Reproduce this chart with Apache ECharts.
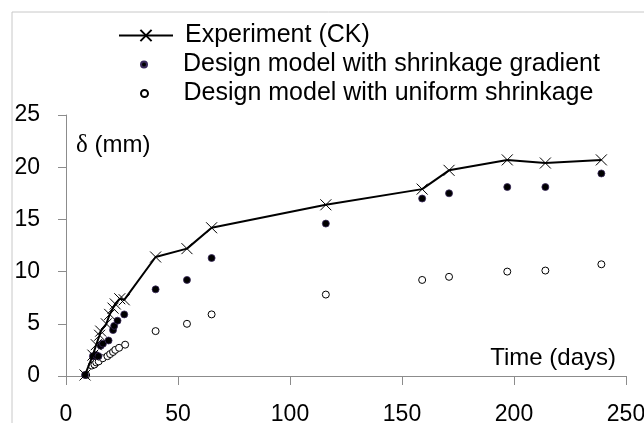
<!DOCTYPE html>
<html>
<head>
<meta charset="utf-8">
<script src="https://cdn.jsdelivr.net/npm/echarts@6/dist/echarts.min.js"></script>
<style>
  html, body { margin: 0; padding: 0; background: #fff; }
  #chart { width: 644px; height: 423px; }
</style>
</head>
<body>
<div id="chart"></div>
<script>
// 数据：时间(天) 与 变形 δ(mm)
const expDays = [8.5, 12, 13.5, 15, 15.5, 18, 19.5, 21, 22, 24, 26, 40, 54, 65, 116, 159, 171, 197, 214, 239]
const expValues = [0.1, 2.0, 3.0, 3.9, 4.3, 5.0, 5.9, 6.5, 6.9, 7.4, 7.3, 11.4, 12.2, 14.2, 16.4, 17.9, 19.7, 20.7, 20.4, 20.7]

const gradDays = [8.5, 12, 13.5, 14.5, 15.5, 16.5, 19, 21, 21.5, 23, 26, 40, 54, 65, 116, 159, 171, 197, 214, 239]
const gradValues = [0.1, 1.9, 2.0, 1.9, 2.9, 3.1, 3.4, 4.4, 4.8, 5.3, 5.9, 8.3, 9.2, 11.3, 14.6, 17.0, 17.5, 18.1, 18.1, 19.4]

const uniDays = [9, 11.5, 12.7, 13.5, 14.6, 16.4, 18.5, 19.7, 21, 22, 23.7, 26.4, 40, 54, 65, 116, 159, 171, 197, 214, 239]
const uniValues = [0.1, 1.0, 1.1, 1.3, 1.4, 1.7, 1.9, 2.1, 2.3, 2.5, 2.7, 3.0, 4.3, 5.0, 5.9, 7.8, 9.2, 9.5, 10.0, 10.1, 10.7]

const names = ['Experiment (CK)', 'Design model with shrinkage gradient', 'Design model with uniform shrinkage']

const zip = (xs, ys) => xs.map((x, i) => [x, ys[i]])

const font = 'Liberation Sans, Arial, sans-serif'
const axisColor = '#8c8c8c'
const crossPath = 'path://M0,0L10,10M10,0L0,10'

// 图例（每项单独放置）
const legendBase = {
  orient: 'vertical',
  padding: 0,
  itemWidth: 54,
  selectedMode: false,
  textStyle: { fontFamily: font, fontSize: 25, color: '#000', lineHeight: 20, padding: [0, 0, 0, 7] },
}

let chart = echarts.init(document.getElementById('chart'))
chart.setOption({
  animation: false,
  backgroundColor: '#fff',
  legend: [
    Object.assign({}, legendBase, { left: 118, top: 23, itemHeight: 14, data: [names[0]] }),
    Object.assign({}, legendBase, { left: 140, top: 52, itemHeight: 6, data: [names[1]] }),
    Object.assign({}, legendBase, { left: 140, top: 81, itemHeight: 7, data: [names[2]] }),
  ],
  grid: {
    left: 66,
    right: 18,
    top: 115,
    bottom: 47,
    outerBoundsMode: 'none',
  },
  xAxis: {
    type: 'value',
    min: 0,
    max: 250,
    interval: 50,
    splitLine: { show: false },
    axisLine: { show: true, onZero: false, lineStyle: { color: axisColor, width: 1 } },
    axisTick: { show: true, length: 9, lineStyle: { color: axisColor } },
    axisLabel: { margin: 27, color: '#000', fontFamily: font, fontSize: 23 },
  },
  yAxis: {
    type: 'value',
    min: 0,
    max: 25,
    interval: 5,
    splitLine: { show: false },
    axisLine: { show: true, lineStyle: { color: axisColor, width: 1 } },
    axisTick: { show: true, length: 8, lineStyle: { color: axisColor } },
    axisLabel: { margin: 26, color: '#000', fontFamily: font, fontSize: 23 },
  },
  graphic: [
    // 外边框
    {
      type: 'rect',
      shape: { x: 12, y: 12, width: 640, height: 420 },
      style: { fill: 'none', stroke: '#c8c8c8', lineWidth: 1 },
      silent: true,
    },
    {
      type: 'text',
      left: 76,
      top: 133,
      style: {
        text: '{d|δ} (mm)',
        fontFamily: font,
        fontSize: 24,
        fill: '#000',
        rich: { d: { fontFamily: 'Liberation Serif, serif', fontSize: 25 } },
      },
    },
    {
      type: 'text',
      right: 28,
      top: 346,
      style: { text: 'Time (days)', fontFamily: font, fontSize: 24, fill: '#000' },
    },
  ],
  series: [
    {
      name: names[0],
      type: 'line',
      data: zip(expDays, expValues),
      symbol: crossPath,
      symbolSize: 11,
      lineStyle: { color: '#000', width: 2 },
      itemStyle: { color: '#000', borderColor: '#000', borderWidth: 1 },
      z: 3,
    },
    {
      name: names[1],
      type: 'scatter',
      data: zip(gradDays, gradValues),
      symbol: 'circle',
      symbolSize: 7,
      itemStyle: { color: '#000', borderColor: '#3a2a5c', borderWidth: 0.8, opacity: 1 },
      z: 2,
    },
    {
      name: names[2],
      type: 'scatter',
      data: zip(uniDays, uniValues),
      symbol: 'circle',
      symbolSize: 7,
      itemStyle: { color: '#fff', borderColor: '#000', borderWidth: 1, opacity: 1 },
      z: 1,
    },
  ],
})
</script>
</body>
</html>
